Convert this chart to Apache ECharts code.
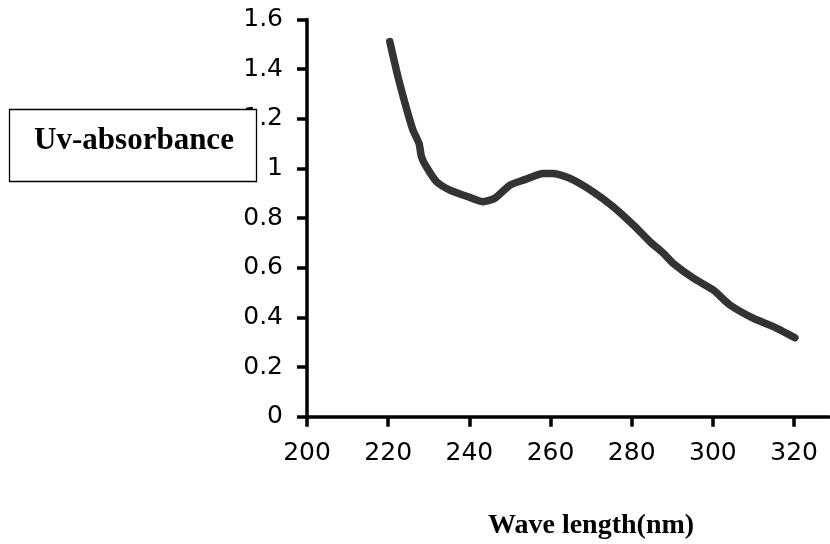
<!DOCTYPE html>
<html>
<head>
<meta charset="utf-8">
<script src="https://cdn.jsdelivr.net/npm/echarts@6/dist/echarts.min.js"></script>
<style>
html,body{margin:0;padding:0;background:#fff;}
#chart{width:830px;height:544px;}
</style>
</head>
<body>
<div id="chart"></div>
<script>
// Data
var wavelength = [220.4, 222.4, 224.5, 226.1, 227.6, 228.2, 229.4, 231.9, 235.2, 239.7, 243.4, 246.3, 250.0, 253.3, 258.2, 260.7, 264.8, 270.5, 275.4, 280.4, 284.5, 287.8, 290.2, 295.2, 300.1, 304.2, 310.0, 314.9, 320.2];
var absorbance = [1.511, 1.370, 1.242, 1.155, 1.101, 1.047, 1.007, 0.947, 0.913, 0.886, 0.866, 0.880, 0.933, 0.953, 0.980, 0.980, 0.960, 0.906, 0.846, 0.772, 0.705, 0.658, 0.618, 0.558, 0.510, 0.450, 0.396, 0.363, 0.318];
var xTicks = [200, 220, 240, 260, 280, 300, 320];
var yTitle = 'Uv-absorbance';
var xTitle = 'Wave length(nm)';

var points = wavelength.map(function (w, i) { return [w, absorbance[i]]; });

var chart = echarts.init(document.getElementById('chart'), null, {renderer: 'canvas'});
chart.setOption({
  animation: false,
  backgroundColor: '#ffffff',
  grid: {left: 307, right: 1, top: 19.5, bottom: 127.3, containLabel: false, outerBoundsMode: 'none'},
  xAxis: {
    type: 'value', min: 200, max: 328.6, interval: 20,
    axisLine: {show: true, onZero: true, lineStyle: {color: '#000', width: 3.5}},
    axisTick: {show: true, length: 10, customValues: xTicks, lineStyle: {color: '#000', width: 3.5}},
    axisLabel: {customValues: xTicks, margin: 24, color: '#000', fontFamily: 'DejaVu Sans', fontSize: 25},
    splitLine: {show: false}
  },
  yAxis: {
    type: 'value', min: 0, max: 1.6, interval: 0.2,
    axisLine: {show: true, lineStyle: {color: '#000', width: 3.5}},
    axisTick: {show: true, length: 10, lineStyle: {color: '#000', width: 3.5}},
    axisLabel: {margin: 24, color: '#000', fontFamily: 'DejaVu Sans', fontSize: 25},
    splitLine: {show: false}
  },
  series: [{
    type: 'line',
    data: points,
    showSymbol: false,
    smooth: 0.2,
    lineStyle: {color: '#333333', width: 7.5, cap: 'round', join: 'round'},
    z: 3
  }],
  graphic: [
    {
      type: 'rect', z: 100,
      shape: {x: 9.5, y: 109.5, width: 247, height: 72},
      style: {fill: '#ffffff', stroke: '#000', lineWidth: 1.3}
    },
    {
      type: 'text', z: 101,
      x: 134, y: 141,
      style: {text: yTitle, fill: '#000', font: 'bold 31px "Liberation Serif", "Times New Roman", serif', textAlign: 'center', textVerticalAlign: 'middle'}
    },
    {
      type: 'text', z: 101,
      x: 488, y: 526,
      style: {text: xTitle, fill: '#000', font: 'bold 28px "Liberation Serif", "Times New Roman", serif', textAlign: 'left', textVerticalAlign: 'middle'}
    }
  ]
});
</script>
</body>
</html>
